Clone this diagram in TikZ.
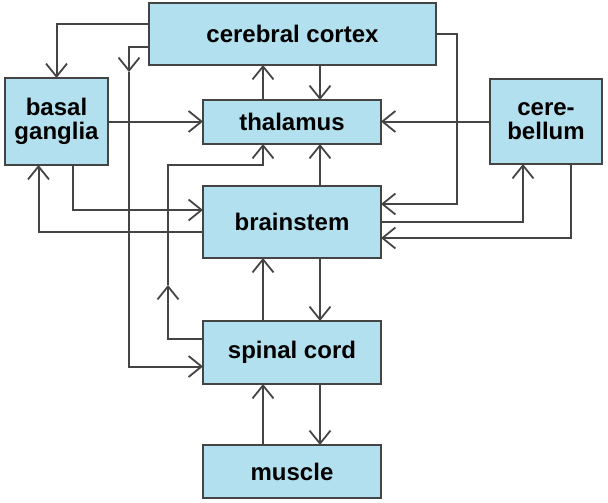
\documentclass[tikz,border=0pt]{standalone}
\usepackage{fontspec}
\setmainfont{Liberation Sans}
\usetikzlibrary{arrows.meta}
\definecolor{boxblue}{RGB}{178,224,238}
\definecolor{linegray}{RGB}{68,68,68}
\tikzset{
  region/.style={draw=linegray, fill=boxblue, line width=2pt, inner sep=0pt, outer sep=0pt,
    align=center, font=\fontsize{24}{24}\selectfont\bfseries},
  conn/.style={draw=linegray, line width=2pt,
    -{Straight Barb[length=13pt,width=21pt,line width=1.8pt]}}
}

\begin{document}
\begin{tikzpicture}[x=1pt,y=-1pt]
	\useasboundingbox (0,0) rectangle (608,503);
	\node[region, minimum width=287pt, minimum height=62pt] (cortex) at (292.5,34) {cerebral cortex};
	\node[region, minimum width=178pt, minimum height=44pt] (thalamus) at (292,122) {thalamus};
	\node[region, minimum width=103pt, minimum height=87pt] (basal) at (56.5,121.5) {basal\\ganglia};
	\node[region, minimum width=112pt, minimum height=85pt] (cerebellum) at (546,121.5) {cere-\\bellum};
	\node[region, minimum width=178pt, minimum height=72pt] (brainstem) at (292,222) {brainstem};
	\node[region, minimum width=178pt, minimum height=63pt] (spinal) at (292,352.5) {spinal cord};
	\node[region, minimum width=178pt, minimum height=53pt] (muscle) at (292,471.5) {muscle};

	\coordinate (cortexdrop) at (129,72);
	\coordinate (spinalrise) at (168,285);
	\coordinate (thalbend) at (168,165);

  % cortex outputs
  \draw[conn] ([yshift=10]cortex.west) -| (basal.north);
  \draw[conn] ([yshift=-13]cortex.west) -| (cortexdrop);
  \draw[conn] (cortexdrop) |- ([yshift=-14]spinal.west);
  \draw[conn] ([xshift=28]thalamus.north |- cortex.south) -- ([xshift=28]thalamus.north);
  \draw[conn] ([xshift=-29]thalamus.north) -- ([xshift=-29]thalamus.north |- cortex.south);
  \draw[conn] (cortex.east) -- ++(21,0) |- ([yshift=18]brainstem.east);

  % into thalamus
  \draw[conn] (basal.east) -- (basal.east -| thalamus.west);
  \draw[conn] (cerebellum.west) -- (cerebellum.west -| thalamus.east);
  \draw[conn] ([xshift=28]brainstem.north) -- ([xshift=28]thalamus.south);
  \draw[conn] ([yshift=14]spinal.west) -| (spinalrise);
  \draw[conn] (spinalrise) -- (thalbend) -| ([xshift=-29]thalamus.south);

  % basal ganglia and cerebellum loops
  \draw[conn] ([xshift=16]basal.south) |- ([yshift=12]brainstem.west);
  \draw[conn] ([yshift=-10]brainstem.west) -| ([xshift=-18]basal.south);
  \draw[conn] (brainstem.east) -| ([xshift=-23]cerebellum.south);
  \draw[conn] ([xshift=25]cerebellum.south) |- ([yshift=-16]brainstem.east);

  % down the column
  \draw[conn] ([xshift=-29]spinal.north) -- ([xshift=-29]brainstem.south);
  \draw[conn] ([xshift=28]brainstem.south) -- ([xshift=28]spinal.north);
  \draw[conn] ([xshift=-29]muscle.north) -- ([xshift=-29]spinal.south);
  \draw[conn] ([xshift=28]spinal.south) -- ([xshift=28]muscle.north);
\end{tikzpicture}
\end{document}
